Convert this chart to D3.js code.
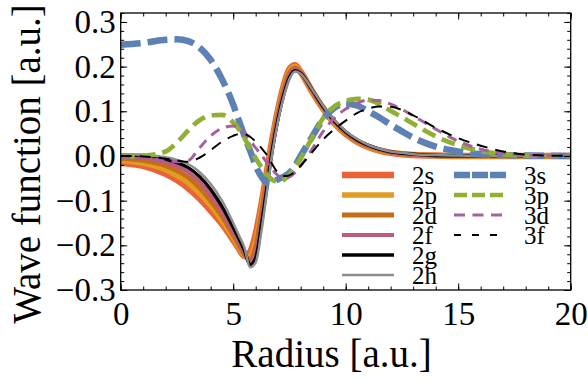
<!DOCTYPE html>
<html>
<head>
<meta charset="utf-8">
<title>Wave functions</title>
<script src="https://d3js.org/d3.v7.min.js"></script>
<style>
  body { margin: 0; background: #fff; }
  svg, svg text { font-family: "Liberation Serif", "Times New Roman", "DejaVu Serif", serif !important; }
</style>
</head>
<body>
<div class="chart"></div>
<script>
// radius grid (a.u.) shared by all curves
const radius = [0, 1, 2, 2.5, 3, 3.5, 4, 4.5, 5, 5.25, 5.5, 5.75, 6, 6.25, 6.5, 6.75, 7, 7.25, 7.5, 7.75,
                8, 8.5, 9, 9.5, 10, 10.5, 11, 11.5, 12, 12.5, 13, 14, 15, 16, 17, 18, 20]

const wf2s = [-0.015, -0.022, -0.040, -0.054, -0.072, -0.095, -0.122, -0.152, -0.188, -0.207, -0.224, -0.215, -0.175, -0.110, -0.035, 0.040, 0.105, 0.158, 0.194, 0.203,
              0.188, 0.145, 0.106, 0.073, 0.049, 0.032, 0.020, 0.012, 0.007, 0.004, 0.002, 0.001, 0, 0, 0, 0, 0]
const wf2p = [-0.010, -0.016, -0.031, -0.044, -0.060, -0.083, -0.111, -0.144, -0.183, -0.203, -0.223, -0.225, -0.190, -0.120, -0.042, 0.035, 0.100, 0.153, 0.190, 0.200,
              0.188, 0.146, 0.107, 0.074, 0.050, 0.033, 0.021, 0.013, 0.008, 0.005, 0.003, 0.001, 0, 0, 0, 0, 0]
const wf2d = [-0.006, -0.010, -0.022, -0.033, -0.048, -0.071, -0.100, -0.135, -0.177, -0.199, -0.221, -0.232, -0.203, -0.130, -0.050, 0.030, 0.095, 0.148, 0.186, 0.197,
              0.187, 0.147, 0.108, 0.076, 0.051, 0.034, 0.022, 0.014, 0.008, 0.005, 0.003, 0.001, 0, 0, 0, 0, 0]
const wf2f = [-0.002, -0.004, -0.014, -0.023, -0.036, -0.058, -0.088, -0.125, -0.170, -0.193, -0.218, -0.237, -0.215, -0.142, -0.060, 0.024, 0.090, 0.143, 0.181, 0.194,
              0.186, 0.148, 0.109, 0.077, 0.053, 0.035, 0.023, 0.015, 0.009, 0.005, 0.003, 0.001, 0, 0, 0, 0, 0]
const wf2g = [0.002, 0.001, -0.007, -0.015, -0.026, -0.046, -0.075, -0.113, -0.160, -0.185, -0.212, -0.244, -0.228, -0.155, -0.070, 0.017, 0.085, 0.138, 0.176, 0.191,
              0.185, 0.149, 0.110, 0.078, 0.054, 0.036, 0.024, 0.015, 0.009, 0.006, 0.004, 0.001, 0, 0, 0, 0, 0]
const wf2h = [0.004, 0.003, -0.003, -0.009, -0.018, -0.036, -0.063, -0.100, -0.150, -0.177, -0.205, -0.249, -0.238, -0.170, -0.080, 0.010, 0.080, 0.133, 0.172, 0.189,
              0.184, 0.150, 0.112, 0.080, 0.056, 0.038, 0.025, 0.016, 0.010, 0.007, 0.004, 0.002, 0.001, 0, 0, 0, 0]

const wf3s = [0.249, 0.253, 0.260, 0.261, 0.257, 0.243, 0.215, 0.172, 0.115, 0.080, 0.045, 0.012, -0.022, -0.046, -0.060, -0.058, -0.052, -0.046, -0.038, -0.022,
              0.000, 0.042, 0.083, 0.108, 0.117, 0.113, 0.100, 0.086, 0.070, 0.055, 0.041, 0.021, 0.010, 0.004, 0.002, 0.001, 0]
const wf3p = [-0.002, 0.000, 0.010, 0.030, 0.057, 0.080, 0.091, 0.092, 0.075, 0.060, 0.040, 0.017, -0.005, -0.025, -0.042, -0.054, -0.058, -0.053, -0.042, -0.025,
              -0.005, 0.040, 0.085, 0.111, 0.123, 0.128, 0.126, 0.116, 0.101, 0.087, 0.072, 0.044, 0.024, 0.011, 0.004, 0.001, 0]
const wf3d = [-0.003, -0.005, -0.010, -0.013, -0.010, 0.018, 0.045, 0.062, 0.067, 0.062, 0.050, 0.035, 0.018, 0.002, -0.015, -0.031, -0.044, -0.050, -0.047, -0.037,
              -0.022, 0.015, 0.055, 0.085, 0.105, 0.118, 0.125, 0.124, 0.116, 0.104, 0.090, 0.060, 0.033, 0.015, 0.006, 0.002, 0]
const wf3f = [0.000, -0.001, -0.006, -0.010, -0.013, -0.004, 0.013, 0.032, 0.045, 0.049, 0.049, 0.043, 0.032, 0.018, 0.002, -0.020, -0.038, -0.045, -0.043, -0.035,
              -0.022, 0.008, 0.037, 0.060, 0.079, 0.096, 0.106, 0.111, 0.110, 0.103, 0.091, 0.063, 0.040, 0.023, 0.010, 0.003, 0]

const seriesNames = ['2s', '2p', '2d', '2f', '2g', '2h', '3s', '3p', '3d', '3f']
const seriesValues = [wf2s, wf2p, wf2d, wf2f, wf2g, wf2h, wf3s, wf3p, wf3d, wf3f]

const xTicks = [0, 5, 10, 15, 20]
const xTickLabels = ['0', '5', '10', '15', '20']
const yTicks = [-0.3, -0.2, -0.1, 0, 0.1, 0.2, 0.3]
const yTickLabels = ['\u22120.3', '\u22120.2', '\u22120.1', '0.0', '0.1', '0.2', '0.3']

// line styles (plot dash / legend dash)
const styles = {
    '2s': { color: '#EB6235', width: 6.5 },
    '2p': { color: '#E19C24', width: 5.5 },
    '2d': { color: '#C56E1A', width: 4.8 },
    '2f': { color: '#BC5B80', width: 4 },
    '2g': { color: '#000000', width: 3.3 },
    '2h': { color: '#8E8E8E', width: 2.5 },
    '3s': { color: '#5E81B5', width: 6.5, dash: '20,7', legendDash: '16,2' },
    '3p': { color: '#8FB032', width: 4.7, dash: '14,7', legendDash: '13,5' },
    '3d': { color: '#A5609D', width: 3, dash: '10,7', legendDash: '11,7.5' },
    '3f': { color: '#000000', width: 2, dash: '11,8', legendDash: '7,11' }
}

const w = 588
const h = 381
const plotLeft = 120.7, plotRight = 570.7, plotTop = 13, plotBottom = 290
const serif = '"Liberation Serif", "Times New Roman", "DejaVu Serif", serif'

const svg = d3.select('.chart')
    .append('svg')
    .attr('width', w)
    .attr('height', h)
    .attr('font-family', serif)

const xScale = d3.scaleLinear().domain([0, 20]).range([plotLeft, plotRight])
const yScale = d3.scaleLinear().domain([-0.3, 0.32]).range([plotBottom, plotTop])

svg.append('defs').append('clipPath')
    .attr('id', 'plot-clip')
    .append('rect')
    .attr('x', plotLeft).attr('y', plotTop)
    .attr('width', plotRight - plotLeft).attr('height', plotBottom - plotTop)

const line = d3.line()
    .x((d) => xScale(d[0]))
    .y((d) => yScale(d[1]))
    .curve(d3.curveMonotoneX)

const curves = svg.append('g').attr('clip-path', 'url(#plot-clip)')
seriesNames.forEach((name, i) => {
    const st = styles[name]
    curves.append('path')
        .datum(radius.map((r, j) => [r, seriesValues[i][j]]))
        .attr('d', line)
        .attr('fill', 'none')
        .attr('stroke', st.color)
        .attr('stroke-width', st.width)
        .attr('stroke-dasharray', st.dash || null)
})

// frame + inside ticks on all four sides
const minorX = d3.range(0, 21, 1)
const minorY = d3.range(-0.3, 0.321, 0.02)

function tickAxis(axis, scale, values, size, labels) {
    return axis(scale).tickValues(values).tickSize(-size)
        .tickFormat(labels ? (d, i) => labels[i] : '')
}

const axes = [
    ['bottom', d3.axisBottom, xScale, 'translate(0,' + plotBottom + ')'],
    ['top', d3.axisTop, xScale, 'translate(0,' + plotTop + ')'],
    ['left', d3.axisLeft, yScale, 'translate(' + plotLeft + ',0)'],
    ['right', d3.axisRight, yScale, 'translate(' + plotRight + ',0)']
]
axes.forEach(([side, axis, scale, tr]) => {
    const isX = side === 'bottom' || side === 'top'
    const g1 = svg.append('g').attr('transform', tr)
        .call(tickAxis(axis, scale, isX ? minorX : minorY, 3.5, null))
    g1.select('.domain').remove()
    const labels = side === 'bottom' ? xTickLabels : side === 'left' ? yTickLabels : null
    const g2 = svg.append('g').attr('transform', tr)
        .call(tickAxis(axis, scale, isX ? xTicks : yTicks, 6.5, labels)
            .tickPadding(side === 'bottom' ? 12 : 5))
    g2.select('.domain').remove()
    g2.attr('font-family', serif).attr('font-size', 33)
    g2.selectAll('text').attr('fill', '#000')
})
svg.selectAll('.tick line').attr('stroke', '#000').attr('stroke-width', 1)

svg.append('rect')
    .attr('x', plotLeft).attr('y', plotTop)
    .attr('width', plotRight - plotLeft).attr('height', plotBottom - plotTop)
    .attr('fill', 'none')
    .attr('stroke', '#000')
    .attr('stroke-width', 1.3)

// axis titles
svg.append('text')
    .attr('x', 331.5)
    .attr('y', 367)
    .attr('text-anchor', 'middle')
    .attr('font-size', 39)
    .text('Radius [a.u.]')

svg.append('g')
    .attr('transform', 'translate(40,164)')
    .append('text')
    .attr('text-anchor', 'middle')
    .attr('transform', 'rotate(-90)')
    .attr('font-size', 39)
    .text('Wave function [a.u.]')

// legend, two columns
const legend = svg.append('g')
seriesNames.forEach((name, i) => {
    const col = i < 6 ? 0 : 1
    const row = i < 6 ? i : i - 6
    const st = styles[name]
    const x0 = col === 0 ? 342 : 454
    const y0 = 175 + row * 20
    legend.append('line')
        .attr('x1', x0).attr('x2', x0 + 52)
        .attr('y1', y0).attr('y2', y0)
        .attr('stroke', st.color)
        .attr('stroke-width', st.width)
        .attr('stroke-dasharray', st.legendDash || null)
    legend.append('text')
        .attr('x', x0 + 70)
        .attr('y', y0 + 8.5)
        .attr('font-size', 25)
        .text(name)
})
</script>
</body>
</html>
